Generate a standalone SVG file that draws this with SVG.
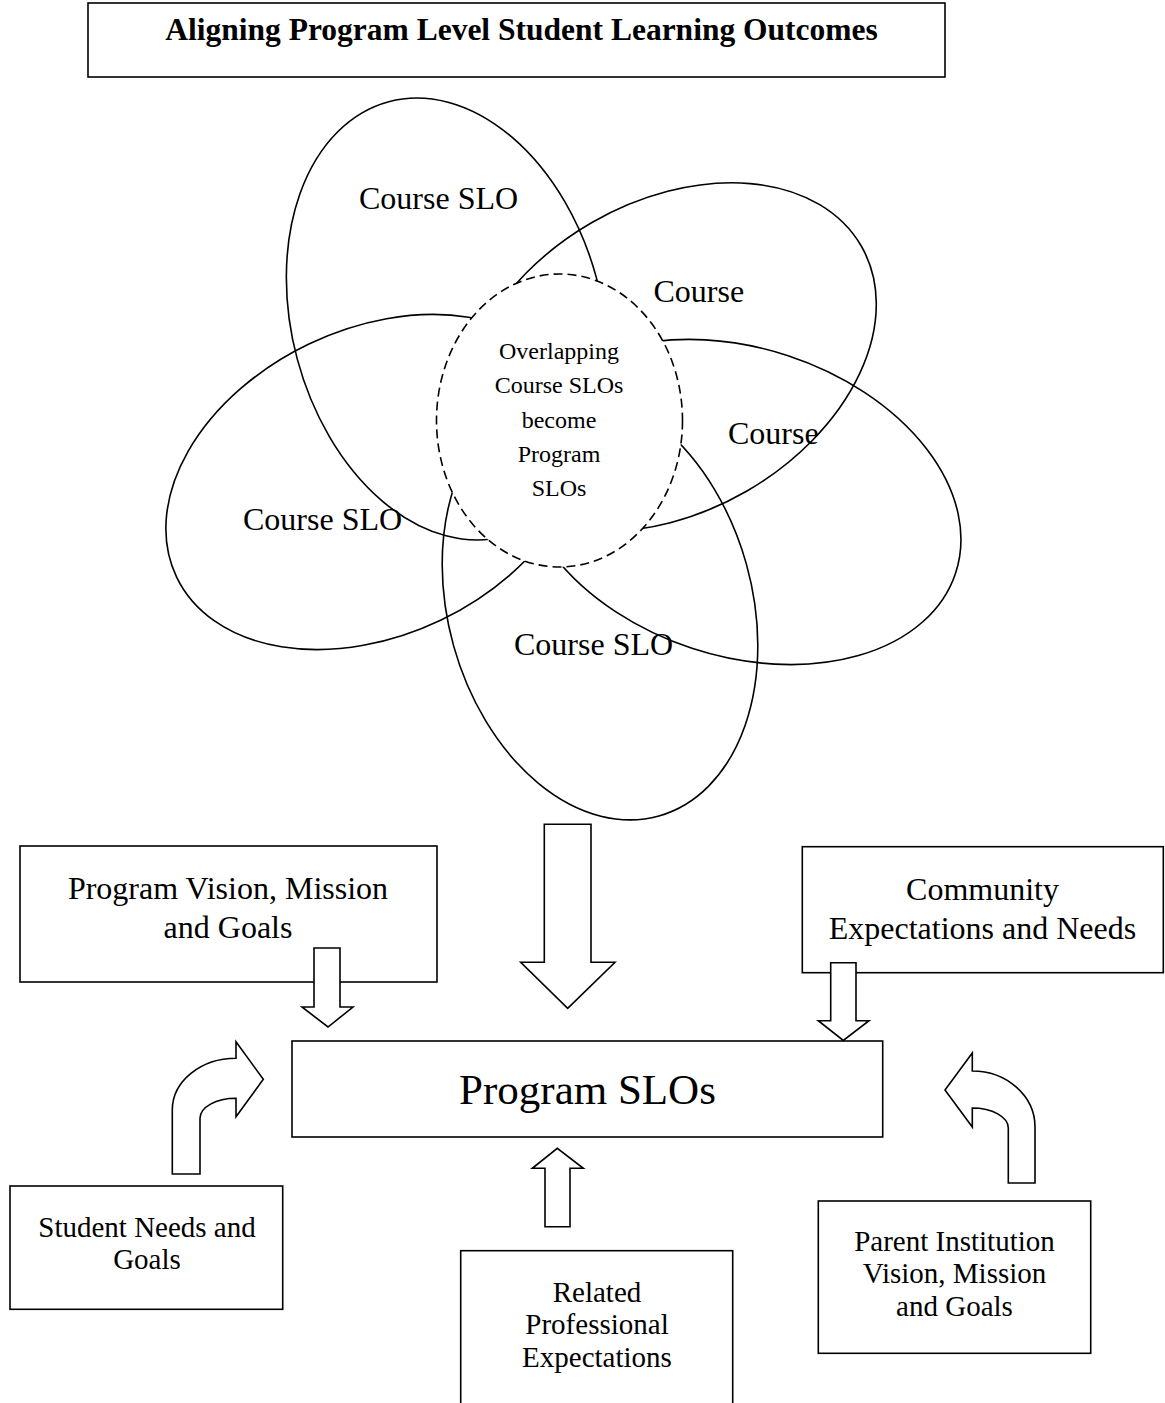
<svg xmlns="http://www.w3.org/2000/svg" width="1165" height="1403" viewBox="0 0 1165 1403">
<style>
.bg{fill:#fff}
.ln{fill:none;stroke:#000;stroke-width:1.6}
.bx{fill:#fff;stroke:#000;stroke-width:1.6}
.arr{fill:#fff;stroke:#000;stroke-width:1.6;stroke-linejoin:miter}
.dash{fill:#fff;stroke:#000;stroke-width:1.6;stroke-dasharray:9 5}
text{font-family:"Liberation Serif","Times New Roman",serif;fill:#000}
.t32{font-size:32px}
.t29{font-size:29px;text-anchor:middle}
.t32m{font-size:32px;text-anchor:middle}
.t24{font-size:24px;text-anchor:middle}
</style>
<rect class="bg" x="0" y="0" width="1165" height="1403"/>

<g id="title">
<rect class="bx" x="88" y="3" width="857" height="74"/>
<text x="521.5" y="40" style="font-size:31.5px;font-weight:bold;text-anchor:middle">Aligning Program Level Student Learning Outcomes</text>
</g>

<g id="petal-top"><ellipse class="ln" cx="0" cy="0" rx="155" ry="225" transform="translate(447,319) rotate(-15)"/></g>
<g id="petal-upper-right"><ellipse class="ln" cx="0" cy="0" rx="222" ry="155" transform="translate(669,357) rotate(-30)"/></g>
<g id="petal-right"><ellipse class="ln" cx="0" cy="0" rx="227" ry="154" transform="translate(740,502) rotate(18.2)"/></g>
<g id="petal-left"><ellipse class="ln" cx="0" cy="0" rx="220" ry="153" transform="translate(375,482) rotate(-25.6)"/></g>
<g id="petal-bottom"><ellipse class="ln" cx="0" cy="0" rx="152" ry="219" transform="translate(600,605) rotate(-15.6)"/></g>

<g id="center">
<ellipse class="dash" cx="559.5" cy="420.5" rx="123" ry="146.5"/>
<text class="t24" x="559" y="359">Overlapping</text>
<text class="t24" x="559" y="393">Course SLOs</text>
<text class="t24" x="559" y="427.5">become</text>
<text class="t24" x="559" y="461.5">Program</text>
<text class="t24" x="559" y="496">SLOs</text>
</g>

<g id="petal-labels">
<text class="t32" x="359" y="209">Course SLO</text>
<text class="t32" x="653.5" y="302">Course</text>
<text class="t32" x="728" y="444">Course</text>
<text class="t32" x="243" y="530">Course SLO</text>
<text class="t32" x="514" y="655">Course SLO</text>
</g>

<g id="program-vision">
<rect class="bx" x="20" y="846" width="417" height="136"/>
<text class="t32m" x="228" y="899">Program Vision, Mission</text>
<text class="t32m" x="228" y="938">and Goals</text>
</g>

<g id="community">
<rect class="bx" x="802.3" y="846.7" width="361" height="126"/>
<text class="t32m" x="982.5" y="900">Community</text>
<text class="t32m" x="982.5" y="938.5">Expectations and Needs</text>
</g>

<g id="program-slos">
<rect class="bx" x="292" y="1041" width="590.7" height="96"/>
<text x="587.5" y="1104" style="font-size:43px;text-anchor:middle">Program SLOs</text>
</g>

<g id="student-needs">
<rect class="bx" x="10" y="1186" width="272.7" height="123.3"/>
<text class="t29" x="147" y="1236.7">Student Needs and</text>
<text class="t29" x="147" y="1269">Goals</text>
</g>

<g id="related-professional">
<rect class="bx" x="460.7" y="1250.7" width="272" height="170"/>
<text class="t29" x="597" y="1301.7">Related</text>
<text class="t29" x="597" y="1334">Professional</text>
<text class="t29" x="597" y="1366.7">Expectations</text>
</g>

<g id="parent-institution">
<rect class="bx" x="818.3" y="1201" width="272.4" height="152.3"/>
<text class="t29" x="954.5" y="1250.7">Parent Institution</text>
<text class="t29" x="954.5" y="1283.3">Vision, Mission</text>
<text class="t29" x="954.5" y="1316">and Goals</text>
</g>

<g id="connectors">
<path class="arr" d="M544.3,824.3 L591,824.3 L591,962.3 L615,962.3 L567.7,1008.3 L520.7,962.3 L544.3,962.3 Z"/>
<path class="arr" d="M314,948 L340,948 L340,1007 L353,1007 L328,1027 L302,1007 L314,1007 Z"/>
<path class="arr" d="M830.7,962.7 L856,962.7 L856,1020.7 L869,1020.7 L843.3,1040.5 L818.3,1020.7 L830.7,1020.7 Z"/>
<path class="arr" d="M545,1226.7 L570,1226.7 L570,1168.3 L583.3,1168.3 L557.3,1148.3 L532.3,1168.3 L545,1168.3 Z"/>
<path class="arr" d="M172.3,1174 L172.3,1110 C172.3,1081.4 200.8,1058.3 236,1058.3 L236,1041.7 L263.3,1079.3 L236,1116.7 L236,1098.3 C216.1,1098.3 200,1107.3 200,1118.3 L200,1174 Z"/>
<path class="arr" d="M1035,1183 L1035,1127 C1035,1096.1 1006.9,1071 972.3,1071 L972.3,1053 L945,1090 L972.3,1127 L972.3,1108 C992.2,1108 1008.3,1117 1008.3,1128 L1008.3,1183 Z"/>
</g>
</svg>
